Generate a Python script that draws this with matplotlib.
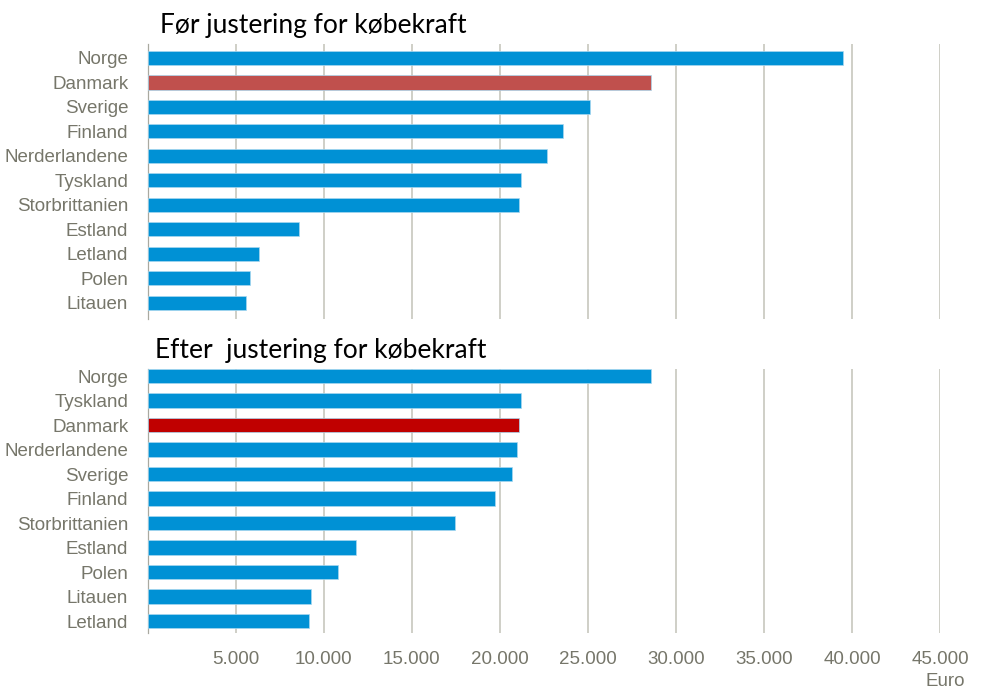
#!/usr/bin/python3
'''
Abstract:
    Bar chart of income per person before and after adjusting for purchasing power
Usage:
    plot.py
'''
import matplotlib
matplotlib.use("Agg")
import matplotlib.pyplot as plt
from matplotlib.ticker import FuncFormatter

#--------------------------------------------
# data
top_title = "Før justering for købekraft"
top_countries = ["Norge", "Danmark", "Sverige", "Finland", "Nerderlandene", "Tyskland",
                 "Storbrittanien", "Estland", "Letland", "Polen", "Litauen"]
top_values = [39500, 28600, 25100, 23600, 22700, 21200, 21100, 8600, 6300, 5800, 5600]

bottom_title = "Efter  justering for købekraft"
bottom_countries = ["Norge", "Tyskland", "Danmark", "Nerderlandene", "Sverige", "Finland",
                    "Storbrittanien", "Estland", "Polen", "Litauen", "Letland"]
bottom_values = [28600, 21200, 21100, 20950, 20700, 19700, 17450, 11850, 10800, 9250, 9150]

x_ticks = [5000, 10000, 15000, 20000, 25000, 30000, 35000, 40000, 45000]
x_unit = "Euro"
highlight = "Danmark"

#--------------------------------------------
# style
blue = "#0091d5"
top_red = "#c0504d"
bottom_red = "#c00000"
label_grey = "#76766a"
grid_grey = "#cbcbc3"
label_font = ["Liberation Sans", "DejaVu Sans"]
label_size = 13.5
title_font = ["Lato", "DejaVu Sans"]

def thousands(v, pos):
    return "{:,.0f}".format(v).replace(",", ".")

def draw_panel(ax, countries, values, hl_color, ylim):
    colors = [hl_color if c == highlight else blue for c in countries]
    ax.barh(range(len(countries)), values, height=0.58, color=colors,
            edgecolor="#a8d8f0", linewidth=0.5, zorder=3)
    ax.set_xlim(0, 45000)
    ax.set_ylim(*ylim)
    ax.set_yticks(range(len(countries)))
    ax.set_yticklabels(countries, family=label_font, fontsize=label_size, color=label_grey)
    ax.set_xticks(x_ticks)
    ax.xaxis.set_major_formatter(FuncFormatter(thousands))
    ax.tick_params(axis="both", length=0)
    ax.tick_params(axis="y", pad=14)
    ax.grid(axis="x", color=grid_grey, linewidth=1.3, zorder=0)
    for s in ["top", "right", "bottom"]:
        ax.spines[s].set_visible(False)
    ax.spines["left"].set_color("#a9a9a0")
    ax.spines["left"].set_linewidth(0.9)
    ax.set_axisbelow(True)

#--------------------------------------------
# plot
fig = plt.figure(figsize=(9.82, 6.90), dpi=100)
left = 147.7 / 982
width = (940 - 147.7) / 982

ax1 = fig.add_axes([left, 0.5377, width, 0.3986])
draw_panel(ax1, top_countries, top_values, top_red, (10.666, -0.572))
ax1.set_xticklabels([])

ax2 = fig.add_axes([left, 0.0826, width, 0.3826])
draw_panel(ax2, bottom_countries, bottom_values, bottom_red, (10.49, -0.286))
ax2.tick_params(axis="x", pad=13)
for lab in ax2.get_xticklabels():
    lab.set_family(label_font)
    lab.set_fontsize(label_size)
    lab.set_color(label_grey)

fig.text(160 / 982, 1 - 33 / 690, top_title, family=title_font, fontsize=19,
         color="black", ha="left", va="baseline")
fig.text(155 / 982, 1 - 358 / 690, bottom_title, family=title_font, fontsize=19,
         color="black", ha="left", va="baseline")
# unit label sits at the very bottom edge
fig.text(965 / 982, 4 / 690, x_unit, family=label_font, fontsize=label_size,
         color=label_grey, ha="right", va="baseline")

fig.savefig("out.png", dpi=100)
